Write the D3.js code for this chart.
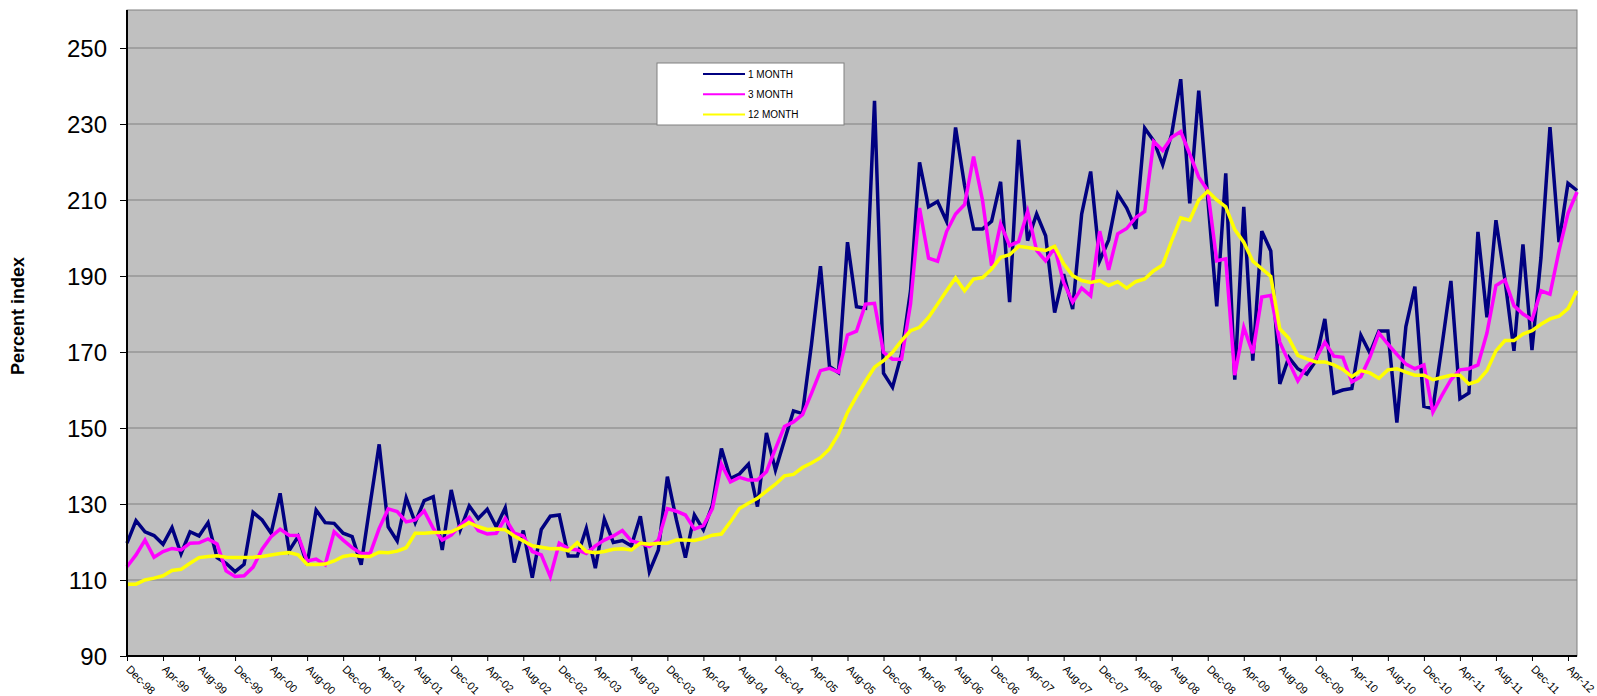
<!DOCTYPE html>
<html>
<head>
<meta charset="utf-8">
<script src="https://cdn.jsdelivr.net/npm/d3@7"></script>
<style>
body { margin: 0; background: #fff; }
svg { font-family: "Liberation Sans", Arial, sans-serif; }
</style>
</head>
<body>
<div id="chart"></div>
<script>
// monthly index, Dec-98 .. May-12
var oneMonth = [
	119.7,125.6,122.7,121.7,119.4,123.8,116.9,122.7,121.6,125.1,
	115.9,114.4,112.2,114.1,127.8,125.8,122.3,132.8,117.7,121.4,
	114.0,128.4,125.1,124.9,122.3,121.4,114.0,130.0,145.7,124.0,
	120.3,131.6,125.1,130.9,131.9,117.9,133.7,123.2,129.5,126.2,
	128.6,124.0,129.0,114.6,123.0,110.6,123.3,126.8,127.1,116.3,
	116.3,123.6,113.1,126.0,119.9,120.4,119.0,126.8,112.2,117.9,
	137.2,125.8,115.9,127.1,123.2,129.7,144.6,136.7,137.9,140.5,
	129.3,148.7,138.9,146.8,154.5,153.8,172.0,192.6,166.2,164.6,
	198.9,181.9,181.5,236.1,164.4,160.7,169.5,186.1,219.9,208.2,
	209.6,204.4,229.1,213.8,202.4,202.4,204.4,214.8,183.1,225.8,
	199.3,206.3,200.6,180.4,190.5,181.3,206.3,217.5,194.0,199.5,
	211.6,207.9,202.4,228.9,225.6,219.3,227.4,241.8,209.1,238.8,
	210.5,182.0,217.0,162.7,208.2,167.7,201.8,196.6,161.6,168.6,
	165.6,164.2,167.7,178.7,159.2,160.0,160.4,174.4,169.7,175.5,
	175.5,151.4,176.7,187.2,155.7,155.1,171.5,188.7,157.7,159.2,
	201.6,179.1,204.7,189.0,170.3,198.3,170.5,194.8,229.2,198.9,
	214.4,212.5
];
var threeMonth = [
	113.5,116.6,120.5,116.0,117.5,118.3,117.9,119.7,119.8,120.8,
	119.5,112.4,110.9,111.1,113.4,118.1,121.4,123.4,121.8,121.7,
	115.0,115.5,114.0,122.7,120.5,118.5,117.0,117.0,123.6,128.7,
	128.0,125.3,125.8,128.2,123.6,120.5,121.8,124.3,126.5,123.0,
	122.1,122.3,126.2,122.3,121.6,117.5,116.6,110.9,119.7,118.3,
	117.9,117.0,119.0,120.5,121.6,123.0,120.3,119.7,118.8,120.5,
	128.8,128.1,127.1,123.4,124.3,128.8,140.5,135.8,137.0,136.3,
	136.3,138.5,144.6,150.4,151.6,153.5,159.1,165.1,165.7,164.7,
	174.5,175.5,182.6,182.8,169.9,168.1,168.1,182.6,207.9,194.7,
	193.9,201.7,206.3,208.8,221.4,209.8,192.7,203.7,198.0,199.1,
	207.0,196.7,194.0,197.4,188.3,183.1,186.8,184.8,201.8,191.6,
	201.1,202.5,205.4,207.0,225.4,223.0,226.5,228.0,222.1,216.0,
	212.5,194.0,194.5,163.9,176.5,169.7,184.5,184.9,172.6,167.4,
	162.4,166.2,168.2,172.6,168.9,168.6,162.1,163.5,168.6,175.0,
	172.1,169.4,166.8,165.6,166.6,154.2,158.6,162.7,165.3,165.6,
	166.6,175.0,187.5,189.0,182.2,180.0,178.5,186.1,185.2,196.6,
	206.5,212.1
];
var twelveMonth = [
	108.9,108.9,110.0,110.5,111.1,112.5,112.8,114.4,115.9,116.2,
	116.4,116.0,115.9,115.9,116.0,116.2,116.6,117.0,117.2,116.6,
	114.1,114.1,114.2,115.0,116.2,116.6,116.2,116.2,117.3,117.2,
	117.6,118.5,122.3,122.3,122.5,122.5,122.7,123.8,125.1,124.0,
	123.3,123.4,123.2,121.6,120.3,119.0,118.6,118.2,118.3,117.7,
	119.8,117.5,117.2,117.5,118.1,118.2,117.9,119.7,119.4,119.7,
	119.7,120.5,120.5,120.4,121.0,121.8,122.1,125.3,128.8,130.2,
	131.5,133.4,135.2,137.4,137.8,139.6,140.8,142.2,144.5,148.4,
	154.1,158.3,162.3,166.0,167.7,169.9,173.0,175.6,176.5,179.1,
	182.6,186.1,189.5,186.1,189.2,189.6,191.8,194.9,195.6,197.8,
	197.5,197.1,196.7,197.8,193.2,190.1,188.8,188.3,188.8,187.5,
	188.5,186.8,188.5,189.2,191.4,192.9,199.3,205.3,204.7,210.0,
	212.3,210.0,208.2,202.2,198.9,193.9,191.9,189.9,176.1,173.6,
	169.1,168.2,167.4,167.4,166.6,165.4,163.5,165.1,164.5,163.1,
	165.3,165.6,164.7,163.9,163.9,162.7,163.3,163.9,163.9,161.6,
	162.4,165.1,170.3,173.0,173.0,174.7,175.6,177.3,178.7,179.4,
	181.4,186.1
];
var seriesNames = ["1 MONTH", "3 MONTH", "12 MONTH"];
var seriesColors = ["#000080", "#FF00FF", "#FFFF00"];
var yTicks = [90, 110, 130, 150, 170, 190, 210, 230, 250];
var fmt = d3.timeFormat("%b-%y");
var months = d3.timeMonth.range(new Date(1998, 11, 1), new Date(2012, 5, 1)).map(fmt);
var tickLabels = months.filter(function(d, i){ return i % 4 === 0; });

var W = 1597, H = 696;
var pad = {l:127, r:20, t:10, b:40};

var svg = d3.select('#chart').append('svg')
	.attr('width', W)
	.attr('height', H);

var xScale = d3.scalePoint()
	.domain(months)
	.range([pad.l, W - pad.r]);
var yScale = d3.scaleLinear()
	.domain([90, 260])
	.range([H - pad.b, pad.t]);

// plot area
svg.append('rect')
	.attr('x', pad.l).attr('y', pad.t)
	.attr('width', W - pad.r - pad.l)
	.attr('height', H - pad.b - pad.t)
	.attr('fill', '#C0C0C0')
	.attr('stroke', '#808080')
	.attr('stroke-width', 1);

svg.append('g')
	.selectAll('line')
	.data(yTicks.slice(1)).enter()
	.append('line')
		.attr('x1', pad.l).attr('x2', W - pad.r)
		.attr('y1', d=>yScale(d)).attr('y2', d=>yScale(d))
		.attr('stroke', '#808080')
		.attr('stroke-width', 1);

var line = d3.line()
	.x((d,i)=>xScale(months[i]))
	.y(d=>yScale(d));

svg.append('g').attr('class', 'paths')
	.selectAll('path')
	.data([oneMonth, threeMonth, twelveMonth]).enter()
	.append('path')
		.attr('d', line)
		.attr('stroke', (d,i)=>seriesColors[i])
		.attr('stroke-width', 3.5)
		.attr('stroke-linejoin', 'miter')
		.attr('fill', 'none');

// axes
var yAxis = d3.axisLeft(yScale)
	.tickValues(yTicks)
	.tickSize(7)
	.tickPadding(13);
svg.append('g')
	.attr('transform', 'translate(' + pad.l + ',0)')
	.call(yAxis)
	.call(g=>g.select('.domain').attr('stroke', '#000').attr('stroke-width', 2).attr('d', 'M0,' + pad.t + 'V' + (H - pad.b)))
	.call(g=>g.selectAll('.tick line').attr('stroke', '#000'))
	.call(g=>g.selectAll('.tick text').style('font-size', '24px').attr('fill', '#000').attr('dy', '0.36em'));

var xAxis = d3.axisBottom(xScale)
	.tickValues(tickLabels)
	.tickSize(5);
svg.append('g')
	.attr('transform', 'translate(0,' + (H - pad.b) + ')')
	.call(xAxis)
	.call(g=>g.select('.domain').attr('stroke', '#000').attr('stroke-width', 2).attr('d', 'M' + pad.l + ',0H' + (W - pad.r)))
	.call(g=>g.selectAll('.tick line').attr('stroke', '#000'))
	.call(g=>g.selectAll('.tick text')
		.style('font-size', '11px')
		.attr('fill', '#000')
		.attr('text-anchor', 'start')
		.attr('y', 0).attr('dy', 0)
		.attr('transform', 'translate(-2,14) rotate(45)'));

svg.append('text')
	.attr('transform', 'translate(24,316) rotate(-90)')
	.attr('text-anchor', 'middle')
	.style('font-size', '18px')
	.style('font-weight', 'bold')
	.text('Percent index');

// legend
var lg = svg.append('g').attr('transform', 'translate(657,63)');
lg.append('rect')
	.attr('width', 187).attr('height', 62)
	.attr('fill', '#fff')
	.attr('stroke', '#808080');
seriesNames.forEach(function(name, i) {
	var yy = 11 + i * 20.3;
	lg.append('line')
		.attr('x1', 46).attr('x2', 88)
		.attr('y1', yy).attr('y2', yy)
		.attr('stroke', seriesColors[i])
		.attr('stroke-width', 2);
	lg.append('text')
		.attr('x', 91).attr('y', yy + 3.5)
		.style('font-size', '10px')
		.text(name);
});
</script>
</body>
</html>
